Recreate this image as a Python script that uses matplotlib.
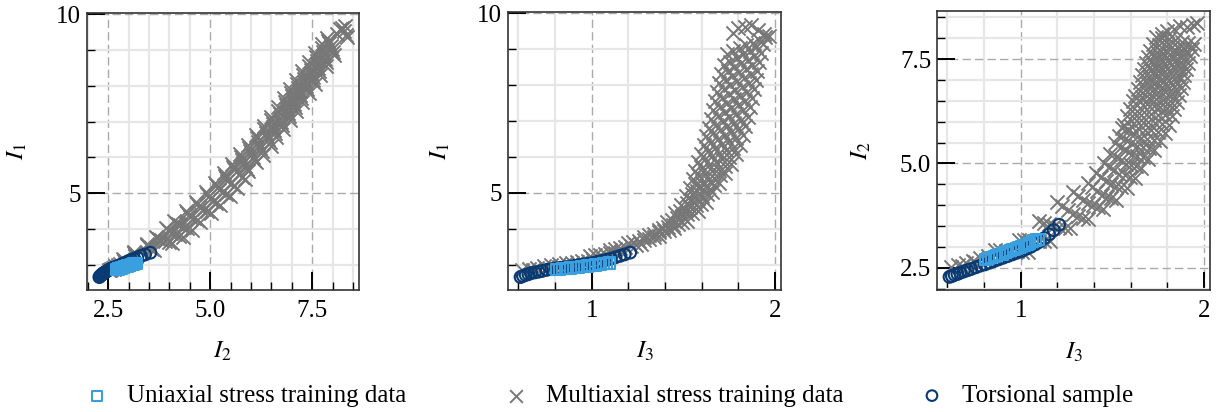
import matplotlib.pyplot as plt
from matplotlib.ticker import MultipleLocator

plt.rcParams['font.family'] = ['Liberation Serif', 'DejaVu Serif']
plt.rcParams['mathtext.fontset'] = 'stix'
plt.rcParams['font.size'] = 9

# multiaxial stress training data, one point = (I1, I2, I3); one line ~ one row of the cloud
multi_I3 = [0.62, 0.66, 0.70, 0.74, 0.78, 0.82, 0.68, 0.75, 0.82,
            0.860, 0.890, 0.920, 0.950, 0.980, 1.010, 1.040,
            0.990, 1.018, 1.046, 1.074, 1.102, 1.130, 1.158,
            1.100, 1.128, 1.156, 1.184, 1.212, 1.240, 1.268,
            1.200, 1.228, 1.256, 1.284, 1.312, 1.340, 1.368,
            1.283, 1.311, 1.339, 1.367, 1.395, 1.423, 1.451,
            1.365, 1.391, 1.417, 1.443, 1.469, 1.495, 1.521,
            1.410, 1.438, 1.466, 1.494, 1.522, 1.550, 1.578,
            1.455, 1.483, 1.511, 1.539, 1.567, 1.595, 1.623,
            1.490, 1.518, 1.546, 1.574, 1.602, 1.630, 1.658,
            1.517, 1.547, 1.576, 1.606, 1.635, 1.665, 1.694,
            1.535, 1.568, 1.600, 1.633, 1.665, 1.698, 1.730,
            1.551, 1.586, 1.621, 1.656, 1.691, 1.726, 1.761,
            1.566, 1.603, 1.639, 1.676, 1.712, 1.749, 1.785,
            1.581, 1.619, 1.656, 1.694, 1.732, 1.770, 1.807,
            1.596, 1.634, 1.672, 1.710, 1.748, 1.786, 1.824,
            1.611, 1.649, 1.687, 1.725, 1.763, 1.801, 1.839,
            1.626, 1.664, 1.702, 1.740, 1.778, 1.816, 1.854,
            1.640, 1.677, 1.715, 1.752, 1.789, 1.827, 1.864,
            1.653, 1.690, 1.727, 1.763, 1.800, 1.837, 1.874,
            1.664, 1.701, 1.737, 1.774, 1.811, 1.847, 1.884,
            1.674, 1.711, 1.747, 1.784, 1.821, 1.857, 1.894,
            1.684, 1.721, 1.757, 1.794, 1.831, 1.867, 1.904,
            1.694, 1.731, 1.767, 1.804, 1.841, 1.877, 1.914,
            1.706, 1.742, 1.779, 1.815, 1.851, 1.888, 1.924,
            1.721, 1.757, 1.792, 1.828, 1.863, 1.899, 1.934,
            1.738, 1.773, 1.808, 1.843, 1.878, 1.913, 1.948,
            1.770, 1.800, 1.835, 1.870, 1.905, 1.940, 1.965]
multi_I1 = [2.86, 2.89, 2.92, 2.96, 3.00, 3.03, 2.86, 2.90, 2.95,
            3.04, 3.06, 3.08, 3.10, 3.12, 3.14, 3.16,
            3.24, 3.26, 3.28, 3.30, 3.32, 3.34, 3.36,
            3.41, 3.44, 3.47, 3.50, 3.53, 3.56, 3.59,
            3.61, 3.64, 3.67, 3.70, 3.73, 3.76, 3.79,
            3.78, 3.82, 3.86, 3.90, 3.94, 3.98, 4.02,
            3.98, 4.02, 4.06, 4.10, 4.14, 4.18, 4.22,
            4.20, 4.25, 4.30, 4.35, 4.40, 4.45, 4.50,
            4.45, 4.50, 4.55, 4.60, 4.65, 4.70, 4.75,
            4.67, 4.73, 4.79, 4.85, 4.91, 4.97, 5.03,
            4.92, 4.98, 5.04, 5.10, 5.16, 5.22, 5.28,
            5.14, 5.21, 5.28, 5.35, 5.42, 5.49, 5.56,
            5.39, 5.46, 5.53, 5.60, 5.67, 5.74, 5.81,
            5.61, 5.69, 5.77, 5.85, 5.93, 6.01, 6.09,
            5.86, 5.94, 6.02, 6.10, 6.18, 6.26, 6.34,
            6.08, 6.17, 6.26, 6.35, 6.44, 6.53, 6.62,
            6.33, 6.42, 6.51, 6.60, 6.69, 6.78, 6.87,
            6.58, 6.67, 6.76, 6.85, 6.94, 7.03, 7.12,
            6.80, 6.90, 7.00, 7.10, 7.20, 7.30, 7.40,
            7.05, 7.15, 7.25, 7.35, 7.45, 7.55, 7.65,
            7.30, 7.40, 7.50, 7.60, 7.70, 7.80, 7.90,
            7.55, 7.65, 7.75, 7.85, 7.95, 8.05, 8.15,
            7.80, 7.90, 8.00, 8.10, 8.20, 8.30, 8.40,
            8.05, 8.15, 8.25, 8.35, 8.45, 8.55, 8.65,
            8.30, 8.40, 8.50, 8.60, 8.70, 8.80, 8.90,
            8.55, 8.65, 8.75, 8.85, 8.95, 9.05, 9.15,
            8.86, 8.94, 9.02, 9.10, 9.18, 9.26, 9.34,
            9.45, 9.58, 9.62, 9.67, 9.52, 9.42, 9.37]
multi_I2 = [2.51, 2.56, 2.61, 2.67, 2.73, 2.79, 2.55, 2.63, 2.72,
            2.93, 2.92, 2.91, 2.90, 2.89, 2.88, 2.87,
            3.17, 3.16, 3.16, 3.15, 3.15, 3.14, 3.14,
            3.62, 3.58, 3.54, 3.50, 3.48, 3.46, 3.44,
            4.07, 3.98, 3.88, 3.79, 3.75, 3.70, 3.66,
            4.32, 4.23, 4.13, 4.04, 4.00, 3.96, 3.91,
            4.54, 4.44, 4.35, 4.25, 4.20, 4.16, 4.12,
            4.76, 4.67, 4.59, 4.50, 4.47, 4.43, 4.40,
            5.01, 4.92, 4.84, 4.75, 4.72, 4.68, 4.65,
            5.23, 5.15, 5.07, 4.99, 4.96, 4.93, 4.90,
            5.48, 5.39, 5.31, 5.22, 5.18, 5.15, 5.11,
            5.66, 5.58, 5.50, 5.42, 5.39, 5.36, 5.33,
            5.86, 5.78, 5.70, 5.62, 5.59, 5.56, 5.53,
            5.93, 5.89, 5.85, 5.81, 5.79, 5.76, 5.74,
            6.13, 6.08, 6.05, 6.00, 5.98, 5.95, 5.93,
            6.30, 6.26, 6.23, 6.19, 6.17, 6.15, 6.13,
            6.50, 6.46, 6.42, 6.38, 6.36, 6.33, 6.31,
            6.62, 6.60, 6.57, 6.55, 6.53, 6.50, 6.48,
            6.79, 6.77, 6.74, 6.72, 6.70, 6.67, 6.65,
            6.95, 6.92, 6.90, 6.88, 6.85, 6.83, 6.81,
            7.11, 7.08, 7.06, 7.03, 7.01, 6.98, 6.96,
            7.26, 7.23, 7.21, 7.18, 7.16, 7.13, 7.11,
            7.41, 7.38, 7.36, 7.33, 7.31, 7.28, 7.26,
            7.56, 7.53, 7.51, 7.48, 7.46, 7.43, 7.41,
            7.69, 7.67, 7.65, 7.63, 7.61, 7.59, 7.57,
            7.85, 7.83, 7.81, 7.79, 7.77, 7.75, 7.73,
            8.04, 8.01, 7.98, 7.95, 7.92, 7.89, 7.86,
            8.10, 8.18, 8.22, 8.30, 8.28, 8.32, 8.36]

# uniaxial stress training data
uni_I3 = [0.81, 0.825, 0.84, 0.855, 0.87, 0.885, 0.90, 0.915, 0.93, 0.945,
          0.96, 0.975, 0.99, 1.005, 1.02, 1.035, 1.05, 1.065, 1.08, 1.095]
uni_I1 = [2.870, 2.878, 2.886, 2.894, 2.902, 2.911, 2.920, 2.929, 2.938, 2.947,
          2.956, 2.966, 2.976, 2.986, 2.996, 3.006, 3.016, 3.027, 3.038, 3.050]
uni_I2 = [2.70, 2.72, 2.74, 2.76, 2.79, 2.81, 2.83, 2.86, 2.88, 2.91,
          2.93, 2.96, 2.98, 3.01, 3.03, 3.06, 3.09, 3.12, 3.15, 3.18]

# torsional sample
tor_I3 = [0.612, 0.625, 0.640, 0.655, 0.670, 0.690, 0.710, 0.730, 0.755, 0.780,
          0.805, 0.830, 0.855, 0.880, 0.905, 0.930, 0.955, 0.980, 1.005, 1.030,
          1.055, 1.080, 1.105, 1.130, 1.155, 1.180, 1.210]
tor_I1 = [2.66, 2.69, 2.72, 2.74, 2.77, 2.79, 2.81, 2.83, 2.86, 2.88,
          2.90, 2.92, 2.93, 2.95, 2.97, 2.99, 3.01, 3.03, 3.05, 3.08,
          3.11, 3.14, 3.17, 3.21, 3.25, 3.29, 3.34]
tor_I2 = [2.28, 2.30, 2.33, 2.35, 2.38, 2.41, 2.44, 2.47, 2.51, 2.55,
          2.58, 2.62, 2.66, 2.70, 2.74, 2.78, 2.82, 2.86, 2.90, 2.95,
          3.00, 3.06, 3.13, 3.21, 3.30, 3.40, 3.53]

c_uni = '#3a9fdf'
c_multi = '#777777'
c_tor = '#0a3a72'

fig = plt.figure(figsize=(6.09, 2.06), dpi=200)
ax1 = fig.add_axes([0.0712, 0.2961, 0.2236, 0.6716])
ax2 = fig.add_axes([0.4173, 0.2961, 0.2239, 0.6740])
ax3 = fig.add_axes([0.7695, 0.2961, 0.2239, 0.6780])

panels = [
    (ax1, 'I2', 'I1', (1.97, 8.65), (2.30, 10.02), (2.5, 0.5), (5, 1), r'$I_2$', r'$I_1$'),
    (ax2, 'I3', 'I1', (0.545, 2.033), (2.30, 10.02), (1, 0.2), (5, 1), r'$I_3$', r'$I_1$'),
    (ax3, 'I3', 'I2', (0.545, 2.033), (1.966, 8.66), (1, 0.2), (2.5, 0.5), r'$I_3$', r'$I_2$'),
]
multi = {'I1': multi_I1, 'I2': multi_I2, 'I3': multi_I3}
uni = {'I1': uni_I1, 'I2': uni_I2, 'I3': uni_I3}
tor = {'I1': tor_I1, 'I2': tor_I2, 'I3': tor_I3}

for ax, kx, ky, xl, yl, xt, yt, xlab, ylab in panels:
    h_multi = ax.scatter(multi[kx], multi[ky], marker='x', s=26, c=c_multi,
                         linewidths=0.7, zorder=2)
    h_tor = ax.scatter(tor[kx], tor[ky], marker='o', s=18, facecolors='none',
                       edgecolors=c_tor, linewidths=0.75, zorder=3)
    h_uni = ax.scatter(uni[kx], uni[ky], marker='s', s=16, facecolors='none',
                       edgecolors=c_uni, linewidths=0.75, zorder=4)
    ax.set_xlim(xl)
    ax.set_ylim(yl)
    ax.xaxis.set_major_locator(MultipleLocator(xt[0]))
    ax.xaxis.set_minor_locator(MultipleLocator(xt[1]))
    ax.yaxis.set_major_locator(MultipleLocator(yt[0]))
    ax.yaxis.set_minor_locator(MultipleLocator(yt[1]))
    ax.set_axisbelow(True)
    ax.grid(which='minor', color='#e6e6e6', linewidth=0.8, linestyle='-')
    ax.grid(which='major', color='#aaaaaa', linewidth=0.5, linestyle=(0, (6, 3)))
    ax.tick_params(which='both', direction='in', top=False, right=False, colors='black')
    ax.tick_params(which='major', length=6.5, width=0.7)
    ax.tick_params(which='minor', length=3, width=0.5)
    ax.tick_params(axis='x', pad=3.6)
    ax.tick_params(axis='y', pad=2.2)
    for sp in ax.spines.values():
        sp.set_color('#333333')
        sp.set_linewidth(0.6)
    ax.set_xlabel(xlab)
    ax.set_ylabel(ylab)
    ax.xaxis.set_label_coords(0.5, -0.18)

ax1.yaxis.set_label_coords(-0.212, 0.5)
ax2.yaxis.set_label_coords(-0.205, 0.5)
ax3.yaxis.set_label_coords(-0.234, 0.5)

entries = [(h_uni, 'Uniaxial stress training data', 0.0694),
           (h_multi, 'Multiaxial stress training data', 0.4134),
           (h_tor, 'Torsional sample', 0.7549)]
for h, lab, x0 in entries:
    fig.legend([h], [lab], loc='center left', bbox_to_anchor=(x0, 0.039),
               frameon=False, borderpad=0, borderaxespad=0, handlelength=1,
               handletextpad=0.7, scatterpoints=1, markerscale=0.9)

fig.savefig('out.png', dpi=200)
